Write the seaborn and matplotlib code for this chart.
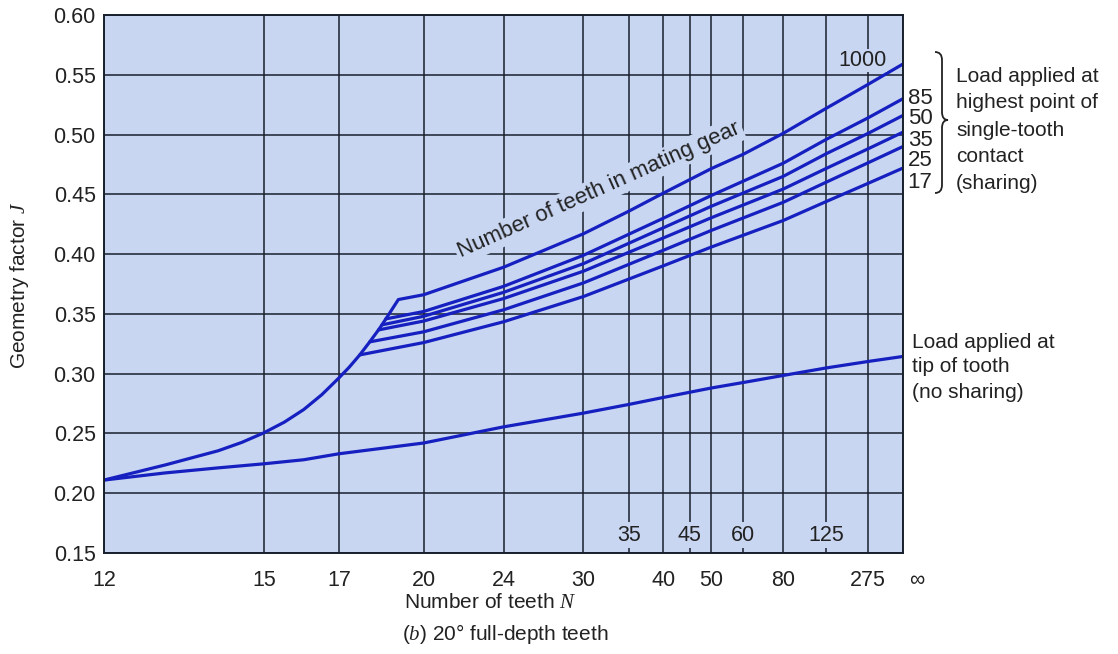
import numpy as np
import pandas as pd
import seaborn as sns
import matplotlib
matplotlib.use("Agg")
import matplotlib.pyplot as plt
from matplotlib.path import Path
from matplotlib.patches import PathPatch
from matplotlib.transforms import ScaledTranslation

INF = 1e9  # stands in for "infinite" number of teeth (rack)

# envelope + 1000-tooth mating gear (highest load point, sharing)
N_1000 = [12, 13, 14, 14.5, 15, 15.5, 16, 16.5, 17, 17.31, 17.65, 17.98, 18.28, 18.40,
          18.54, 19.0, 20, 24, 30, 35, 40, 50, 60, 80, 125, 275, INF]
J_1000 = [0.211, 0.2237, 0.2355, 0.2425, 0.2505, 0.2595, 0.270, 0.2825, 0.2965, 0.3053,
          0.3157, 0.3266, 0.3366, 0.3408, 0.3458, 0.362, 0.366, 0.389, 0.417, 0.436,
          0.451, 0.4715, 0.4835, 0.501, 0.522, 0.542, 0.559]

# other mating gears: branch point off the envelope, then common N values
N_COMMON = [20, 24, 30, 40, 50, 80, 125, 275, INF]
BRANCH = {"85": (18.54, 0.3458), "50": (18.40, 0.3408), "35": (18.28, 0.3366),
          "25": (17.98, 0.3266), "17": (17.65, 0.3157)}
J_85 = [0.352, 0.373, 0.399, 0.430, 0.449, 0.476, 0.496, 0.514, 0.530]
J_50 = [0.348, 0.368, 0.392, 0.422, 0.440, 0.465, 0.484, 0.501, 0.516]
J_35 = [0.344, 0.3628, 0.3857, 0.4135, 0.4304, 0.4544, 0.4717, 0.4881, 0.502]
J_25 = [0.335, 0.3534, 0.3759, 0.4032, 0.4198, 0.4433, 0.4602, 0.4764, 0.490]
J_17 = [0.326, 0.3434, 0.3645, 0.3902, 0.4059, 0.4281, 0.444, 0.4592, 0.472]

# load at tip of tooth (no sharing)
N_TIP = [12, 13, 14, 15, 16, 17, 20, 24, 30, 35, 40, 50, 60, 80, 125, 275, INF]
J_TIP = [0.211, 0.217, 0.2212, 0.2246, 0.228, 0.233, 0.242, 0.2555, 0.267, 0.2743,
         0.2801, 0.288, 0.2926, 0.2985, 0.3048, 0.3102, 0.3144]

X_TICKS = [12, 15, 17, 20, 24, 30, 35, 40, 45, 50, 60, 80, 125, 275, INF]
X_LABELS = ["12", "15", "17", "20", "24", "30", "", "40", "", "50", "", "80", "", "275", "\u221e"]
INNER_TICKS = [35, 45, 60, 125]
Y_TICKS = [0.15, 0.20, 0.25, 0.30, 0.35, 0.40, 0.45, 0.50, 0.55, 0.60]

rows = [(n, j, "1000") for n, j in zip(N_1000, J_1000)]
for name, vals in [("85", J_85), ("50", J_50), ("35", J_35), ("25", J_25), ("17", J_17)]:
    bn, bj = BRANCH[name]
    rows.append((bn, bj, name))
    rows += [(n, j, name) for n, j in zip(N_COMMON, vals)]
rows += [(n, j, "tip") for n, j in zip(N_TIP, J_TIP)]
df = pd.DataFrame(rows, columns=["N", "J", "curve"])

BG = "#c8d6f2"
LINE = "#1620c0"
GRID = "#18202c"

sns.set_theme(style="whitegrid", rc={"axes.facecolor": BG, "grid.color": GRID,
                                     "grid.linewidth": 1.1, "axes.edgecolor": GRID,
                                     "axes.linewidth": 1.4})
plt.rcParams["font.family"] = ["Liberation Sans", "DejaVu Sans"]
plt.rcParams["mathtext.fontset"] = "custom"
plt.rcParams["mathtext.it"] = "Liberation Serif:italic"
plt.rcParams["mathtext.rm"] = "Liberation Sans"

W, H = 1118, 654
fig = plt.figure(figsize=(W / 100, H / 100), dpi=100)
ax = fig.add_axes([104 / W, 1 - 553 / H, (903 - 104) / W, (553 - 15) / H])


def fwd(n):
    n = np.asarray(n, dtype=float)
    with np.errstate(divide="ignore"):
        return 1 / 12 - 1 / n


def inv(u):
    u = np.asarray(u, dtype=float)
    with np.errstate(divide="ignore"):
        return 1 / (1 / 12 - u)


ax.set_xscale("function", functions=(fwd, inv))

sns.lineplot(data=df, x="N", y="J", units="curve", estimator=None, sort=False,
             color=LINE, linewidth=2.3, ax=ax)

ax.set_xlim(12, INF)
ax.set_ylim(0.15, 0.60)
ax.set_xticks(X_TICKS)
ax.set_xticklabels(X_LABELS)
ax.set_yticks(Y_TICKS)
ax.set_yticklabels([f"{v:.2f}" for v in Y_TICKS])
ax.xaxis.set_minor_locator(matplotlib.ticker.NullLocator())
ax.tick_params(axis="both", length=0, labelsize=15.5, colors="#222222")
ax.tick_params(axis="x", pad=12)
ax.tick_params(axis="y", pad=6)
inf_lab = ax.xaxis.get_ticklabels()[-1]
inf_lab.set_transform(inf_lab.get_transform() + ScaledTranslation(10 / 72, 0, fig.dpi_scale_trans))
ax.set_xlabel("")
ax.set_ylabel("")
ax.grid(True, which="major")

txt = "#222222"

# inner x labels, masking the grid behind them
for n in INNER_TICKS:
    ax.text(n, 0.165, str(n), ha="center", va="center", fontsize=15.5, color=txt,
            bbox=dict(facecolor=BG, edgecolor="none", pad=1.5))

ax.text(21.7, 0.397, "Number of teeth in mating gear", rotation=24, rotation_mode="anchor",
        ha="left", va="baseline", fontsize=16, color=txt,
        bbox=dict(facecolor=BG, edgecolor="none", pad=2))
ax.text(234, 0.562, "1000", ha="center", va="center", fontsize=15.5, color=txt,
        bbox=dict(facecolor=BG, edgecolor="none", pad=1))

fig.text(20 / W, 1 - 285 / H, "Geometry factor $J$", rotation=90, ha="center", va="center",
         fontsize=15, color=txt)
fig.text(490 / W, 1 - 603 / H, "Number of teeth $N$", ha="center", va="center",
         fontsize=15, color=txt)
fig.text(505 / W, 1 - 634 / H, "($b$) 20\u00b0 full-depth teeth", ha="center", va="center",
         fontsize=15, color=txt)

for lab, y in zip(["85", "50", "35", "25", "17"], [98, 119, 140, 161, 182]):
    fig.text(920 / W, 1 - y / H, lab, ha="center", va="center", fontsize=16, color=txt)

for s, y in zip(["Load applied at", "highest point of", "single-tooth", "contact", "(sharing)"],
                [76, 103, 130, 157, 184]):
    fig.text(956 / W, 1 - y / H, s, ha="left", va="center", fontsize=15, color=txt)
for s, y in zip(["Load applied at", "tip of tooth", "(no sharing)"], [342, 367, 392]):
    fig.text(912 / W, 1 - y / H, s, ha="left", va="center", fontsize=15, color=txt)

# curly brace
pts = [(935, 52), (942, 52), (942, 60), (942, 112), (942, 120), (948, 120),
       (942, 120), (942, 128), (942, 185), (942, 193), (935, 193)]
codes = [Path.MOVETO, Path.CURVE3, Path.CURVE3, Path.LINETO, Path.CURVE3, Path.CURVE3,
         Path.CURVE3, Path.CURVE3, Path.LINETO, Path.CURVE3, Path.CURVE3]
verts = [(x / W, 1 - y / H) for x, y in pts]
fig.add_artist(PathPatch(Path(verts, codes), transform=fig.transFigure, facecolor="none",
                         edgecolor=txt, linewidth=1.3))

fig.savefig("out.png", dpi=100, facecolor="white")
